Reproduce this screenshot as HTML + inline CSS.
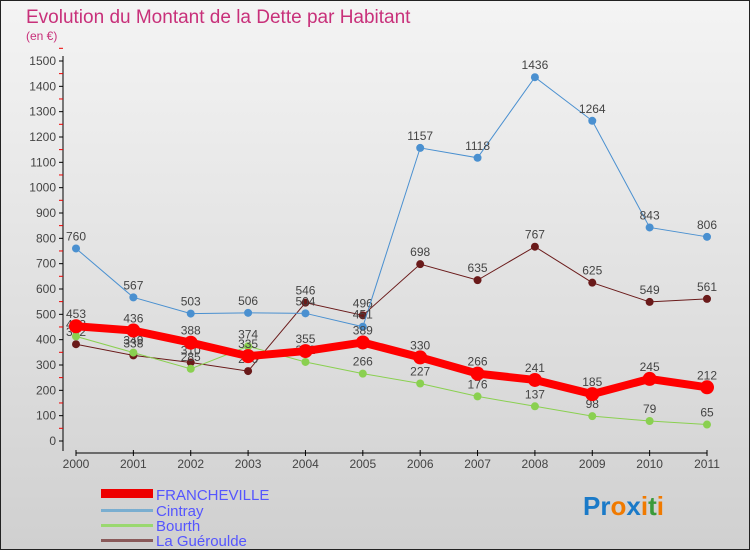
<!DOCTYPE html>
<html><head><meta charset="utf-8"><style>
body{margin:0;width:750px;height:550px;overflow:hidden;font-family:"Liberation Sans",sans-serif}
#wrap{position:relative;width:748px;height:548px;border:1px solid #222;background:linear-gradient(#f4f4f4,#d0d0d0)}
</style></head><body>
<div id="wrap">
<svg id="chart" width="748" height="548" style="position:absolute;left:0;top:0">
<text x="25" y="22" font-size="19" fill="#c8307a">Evolution du Montant de la Dette par Habitant</text>
<text x="25" y="39" font-size="12" fill="#c8307a">(en €)</text>
<g id="axes"></g><g id="series"></g>
<g>
<rect x="100" y="488" width="52" height="9" fill="#e00"/>
<text x="155" y="499" font-size="15" fill="#55f">FRANCHEVILLE</text>
<rect x="100" y="508" width="52" height="3" fill="#7aaed0"/>
<text x="155" y="515" font-size="15" fill="#55f">Cintray</text>
<rect x="100" y="523" width="52" height="3" fill="#9ad870"/>
<text x="155" y="530" font-size="15" fill="#55f">Bourth</text>
<rect x="100" y="538" width="52" height="3" fill="#8a5a5a"/>
<text x="155" y="545" font-size="15" fill="#55f">La Guéroulde</text>
</g>
<text x="582" y="514" font-size="26" font-weight="bold"><tspan fill="#1a7ac8">Pr</tspan><tspan fill="#f07a00">o</tspan><tspan fill="#1a7ac8">x</tspan><tspan fill="#f07a00">i</tspan><tspan fill="#3a9a3a">t</tspan><tspan fill="#f07a00">i</tspan></text>
</svg></div>
<script>
const years=["2000","2001","2002","2003","2004","2005","2006","2007","2008","2009","2010","2011"];
const yTicks=[0,100,200,300,400,500,600,700,800,900,1000,1100,1200,1300,1400,1500];
const francheville=[453,436,388,335,355,389,330,266,241,185,245,212];
const cintray=[760,567,503,506,504,451,1157,1118,1436,1264,843,806];
const bourth=[413,349,285,374,312,266,227,176,137,98,79,65];
const gueroulde=[382,338,310,276,546,496,698,635,767,625,549,561];
const NS="http://www.w3.org/2000/svg";
const xS=i=>75+i*(706-75)/11;
const yS=v=>440-v*(380/1500);
function mk(t,a,p){const e=document.createElementNS(NS,t);for(const k in a)e.setAttribute(k,a[k]);p.appendChild(e);return e;}
const ax=document.getElementById('axes'),sr=document.getElementById('series');
const yl=mk('line',{x1:62,y1:55,x2:62,y2:450,stroke:'#000'},ax);


const xl=mk('line',{x1:75,y1:452,x2:706,y2:452,stroke:'#000'},ax);


yTicks.forEach(v=>{const y=yS(v);
 mk('line',{x1:58,y1:y,x2:62,y2:y,stroke:'#000'},ax);
 mk('line',{x1:58,y1:y-12.7,x2:62,y2:y-12.7,stroke:'#e00'},ax);
 const t=mk('text',{x:55,y:y+4,'font-size':12,fill:'#444','text-anchor':'end'},ax);t.textContent=v;
 
 });
years.forEach((yr,i)=>{const x=xS(i);
 mk('line',{x1:x,y1:449,x2:x,y2:455,stroke:'#000'},ax);
 const t=mk('text',{x:x,y:467,'font-size':12,fill:'#444','text-anchor':'middle'},ax);t.textContent=yr;
 
 });
function draw(data,color,w,r,name){
 const g=mk('g',{},sr);
 
 
 mk('polyline',{points:data.map((v,i)=>xS(i)+','+yS(v)).join(' '),fill:'none',stroke:color,'stroke-width':w},g);
 data.forEach((v,i)=>{const c=mk('circle',{cx:xS(i),cy:yS(v),r:r,fill:color},g);
  
  
  const t=mk('text',{x:xS(i),y:yS(v)-8,'font-size':12,fill:'#444','text-anchor':'middle'},g);t.textContent=v;
  
  });
}
draw(gueroulde,'#6a1a1a',1,4,'la-gueroulde');
draw(bourth,'#8ad050',1,4,'bourth');
draw(cintray,'#4a90d0',1,4,'cintray');
draw(francheville,'#f00',8,7,'francheville');
</script>
</body></html>
